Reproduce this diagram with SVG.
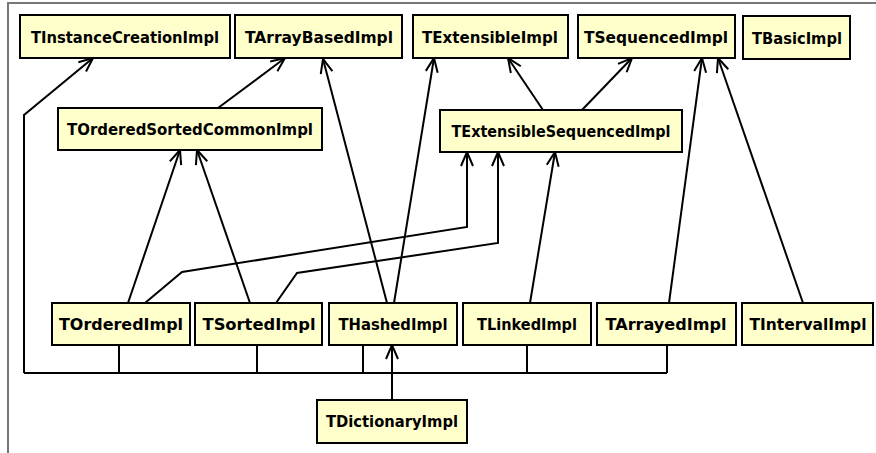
<svg xmlns="http://www.w3.org/2000/svg" width="876" height="453" viewBox="0 0 876 453">
<style>
.n rect{fill:#ffffcc;stroke:#000;stroke-width:2}
.n text{font-family:"Comic Sans MS","DejaVu Sans",sans-serif;font-weight:bold;font-size:16px;text-anchor:middle;dominant-baseline:central;fill:#000}
.c path{fill:none;stroke:#000;stroke-width:2;stroke-linejoin:miter}
.c .a{marker-end:url(#arr)}
</style>
<defs>
<marker id="arr" viewBox="0 0 16 16" refX="15" refY="8" markerWidth="16" markerHeight="16" orient="auto" markerUnits="userSpaceOnUse">
<path d="M1,2 L15,8 L1,14" fill="none" stroke="#000" stroke-width="2"/>
</marker>
</defs>
<rect x="0" y="0" width="876" height="453" fill="#fff"/>
<path d="M8,453 V3 H876" fill="none" stroke="#777" stroke-width="2"/>
<g class="c" id="connectors">
<path d="M24,373 H667"/>
<path d="M119,345 V373 M257,345 V373 M363,345 V373 M527,345 V373 M667,345 V373"/>
<path class="a" d="M24,373 V115 L93,58"/>
<path class="a" d="M218,108 L285,58"/>
<path class="a" d="M387,303 L323,59"/>
<path class="a" d="M394,303 L434,58"/>
<path class="a" d="M543,110 L508,58"/>
<path class="a" d="M582,110 L632,58"/>
<path class="a" d="M669,303 L702,58"/>
<path class="a" d="M803,303 L718,58"/>
<path class="a" d="M530,303 L555,152"/>
<path class="a" d="M128,303 L180,150"/>
<path class="a" d="M250,303 L197,150"/>
<path class="a" d="M145,303 L182,272 L467,227 V152"/>
<path class="a" d="M276,303 L297,273 L498,243 V152"/>
<path class="a" d="M392,400 V345"/>
</g>
<g class="n" id="TInstanceCreationImpl"><rect x="20" y="15" width="210" height="43"/><text x="125" y="37" textLength="188" lengthAdjust="spacingAndGlyphs">TInstanceCreationImpl</text></g>
<g class="n" id="TArrayBasedImpl"><rect x="235" y="15" width="167" height="43"/><text x="319" y="37" textLength="148" lengthAdjust="spacingAndGlyphs">TArrayBasedImpl</text></g>
<g class="n" id="TExtensibleImpl"><rect x="413" y="15" width="155" height="43"/><text x="490" y="37" textLength="136" lengthAdjust="spacingAndGlyphs">TExtensibleImpl</text></g>
<g class="n" id="TSequencedImpl"><rect x="578" y="15" width="157" height="43"/><text x="656" y="37" textLength="144" lengthAdjust="spacingAndGlyphs">TSequencedImpl</text></g>
<g class="n" id="TBasicImpl"><rect x="743" y="16" width="107" height="43"/><text x="797" y="38" textLength="90" lengthAdjust="spacingAndGlyphs">TBasicImpl</text></g>
<g class="n" id="TOrderedSortedCommonImpl"><rect x="58" y="108" width="264" height="42"/><text x="190" y="129" textLength="246" lengthAdjust="spacingAndGlyphs">TOrderedSortedCommonImpl</text></g>
<g class="n" id="TExtensibleSequencedImpl"><rect x="440" y="110" width="242" height="42"/><text x="561" y="131" textLength="219" lengthAdjust="spacingAndGlyphs">TExtensibleSequencedImpl</text></g>
<g class="n" id="TOrderedImpl"><rect x="52" y="303" width="138" height="42"/><text x="121" y="324" textLength="124" lengthAdjust="spacingAndGlyphs">TOrderedImpl</text></g>
<g class="n" id="TSortedImpl"><rect x="195" y="303" width="127" height="42"/><text x="259" y="324" textLength="113" lengthAdjust="spacingAndGlyphs">TSortedImpl</text></g>
<g class="n" id="THashedImpl"><rect x="329" y="303" width="128" height="42"/><text x="393" y="324" textLength="109" lengthAdjust="spacingAndGlyphs">THashedImpl</text></g>
<g class="n" id="TLinkedImpl"><rect x="463" y="303" width="128" height="42"/><text x="527" y="324" textLength="100" lengthAdjust="spacingAndGlyphs">TLinkedImpl</text></g>
<g class="n" id="TArrayedImpl"><rect x="597" y="303" width="139" height="42"/><text x="666" y="324" textLength="121" lengthAdjust="spacingAndGlyphs">TArrayedImpl</text></g>
<g class="n" id="TIntervalImpl"><rect x="742" y="303" width="131" height="42"/><text x="808" y="324" textLength="117" lengthAdjust="spacingAndGlyphs">TIntervalImpl</text></g>
<g class="n" id="TDictionaryImpl"><rect x="317" y="400" width="150" height="43"/><text x="392" y="421" textLength="132" lengthAdjust="spacingAndGlyphs">TDictionaryImpl</text></g>
</svg>
